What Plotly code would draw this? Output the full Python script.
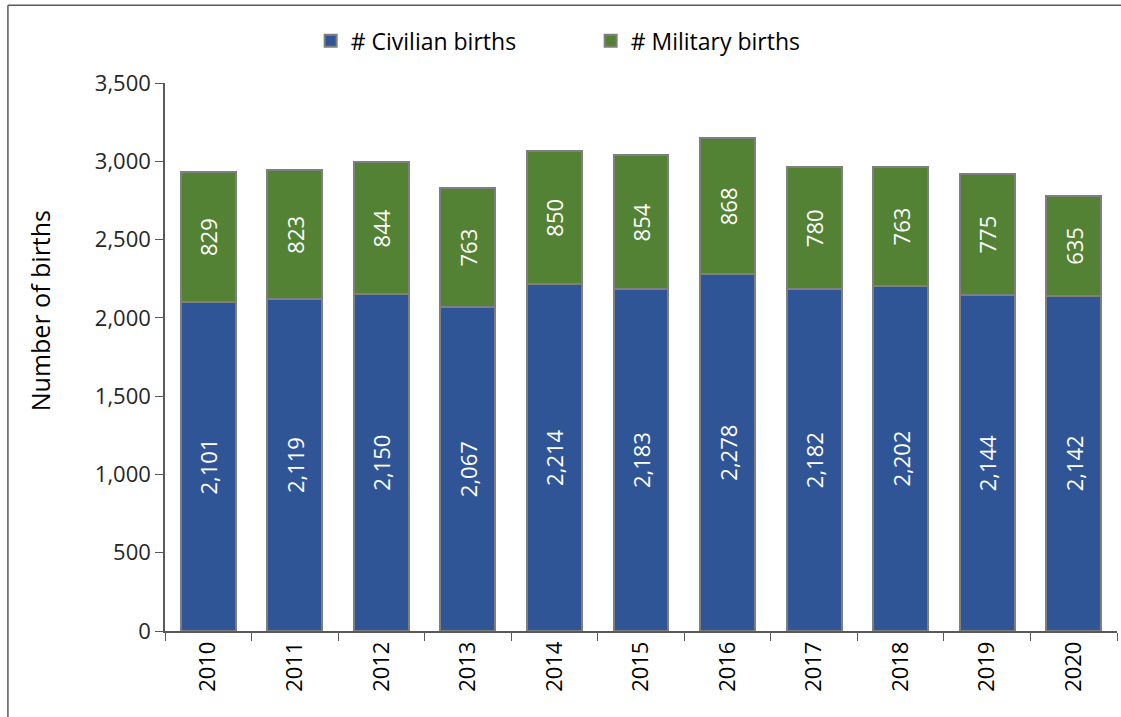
import plotly.graph_objects as go

years = ["2010", "2011", "2012", "2013", "2014", "2015", "2016", "2017", "2018", "2019", "2020"]
civilian = [2101, 2119, 2150, 2067, 2214, 2183, 2278, 2182, 2202, 2144, 2142]
military = [829, 823, 844, 763, 850, 854, 868, 780, 763, 775, 635]

FONT = "Open Sans"
fig = go.Figure()
fig.add_trace(go.Bar(
    x=years, y=civilian, name="# Civilian births",
    marker=dict(color="#2F5597", line=dict(color="#7F7F7F", width=2)),
    text=[f"{v:,}" for v in civilian], textposition="inside", insidetextanchor="middle",
    textangle=-90, textfont=dict(color="white", size=22, family=FONT),
))
fig.add_trace(go.Bar(
    x=years, y=military, name="# Military births",
    marker=dict(color="#548235", line=dict(color="#7F7F7F", width=2)),
    text=[f"{v:,}" for v in military], textposition="inside", insidetextanchor="middle",
    textangle=-90, textfont=dict(color="white", size=22, family=FONT),
))

fig.update_layout(
    barmode="stack", bargap=0.365,
    width=1121, height=717,
    margin=dict(l=165, r=4, t=83, b=86),
    paper_bgcolor="white", plot_bgcolor="white",
    font=dict(family=FONT, size=22, color="black"),
    showlegend=True,
    legend=dict(orientation="h", x=0.153, xanchor="left", y=1.077, yanchor="middle",
                font=dict(size=23, family=FONT, color="black"), itemwidth=30,
                entrywidth=235, traceorder="normal"),
    uniformtext=dict(mode=False),
)
fig.update_yaxes(
    range=[0, 3500], dtick=500, tickformat=",", showgrid=False,
    showline=True, linecolor="#595959", linewidth=1.5,
    ticks="outside", ticklen=8, tickcolor="#595959",
    tickfont=dict(size=22, family=FONT, color="#262626"), zeroline=False,
)
fig.update_xaxes(
    showline=True, linecolor="#595959", linewidth=1.5,
    ticks="outside", ticklen=8, tickcolor="#595959", tickson="boundaries",
    tickangle=-90, tickfont=dict(size=22, family=FONT, color="black"),
)
fig.add_annotation(text="Number of births", textangle=-90, xref="paper", yref="paper",
                   x=-0.131, y=0.584, xanchor="center", yanchor="middle", showarrow=False,
                   font=dict(size=25, family=FONT, color="black"))
# outer frame: top and left edges only (the rest lies outside the picture)
fig.add_shape(type="line", xref="paper", yref="paper",
              x0=-0.165, x1=1.1, y0=1.142, y1=1.142,
              line=dict(color="#595959", width=1.5), layer="below")
fig.add_shape(type="line", xref="paper", yref="paper",
              x0=-0.165, x1=-0.165, y0=-0.3, y1=1.142,
              line=dict(color="#595959", width=1.5), layer="below")

fig.write_html(
    "out.html", config={"displayModeBar": False},
    post_script=("document.body.style.margin='0';"
                 "document.body.style.overflow='hidden';"
                 "document.documentElement.style.overflow='hidden';"),
)
